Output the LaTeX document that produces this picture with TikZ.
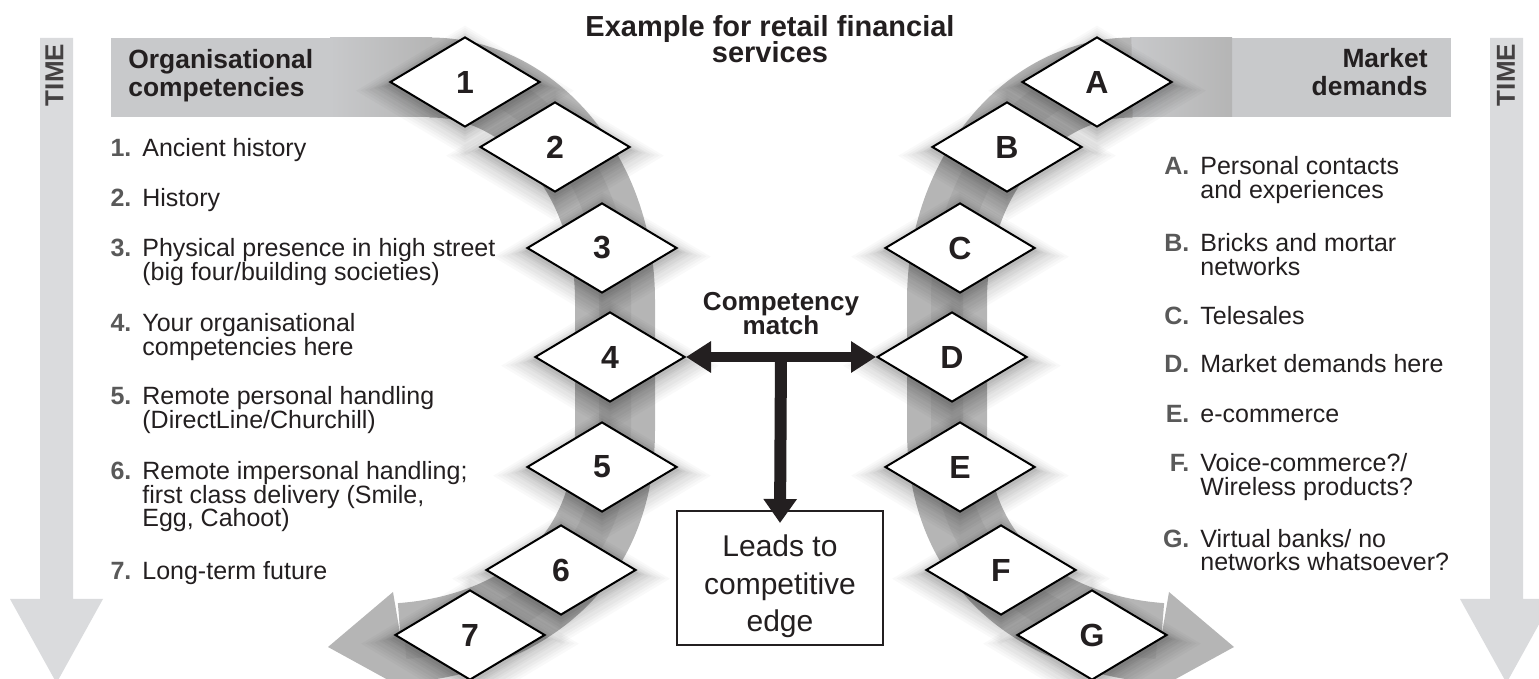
\documentclass[tikz,border=0pt]{standalone}
\usepackage{fontspec}
\setmainfont{Liberation Sans}
\usetikzlibrary{shapes.geometric,arrows.meta,shadows}
\definecolor{txt}{HTML}{231F20}
\definecolor{numc}{HTML}{595959}
\definecolor{hdr}{HTML}{C8C9CB}
\definecolor{bandc}{HTML}{B5B5B5}
\definecolor{timec}{HTML}{DADBDD}
\newcommand\mlL[1]{\vtop{\lineskiplimit=-20pt\lineskip=0pt\halign{##\hfil&##\hfil\cr#1\crcr}}}
\newcommand\mlC[1]{\vtop{\lineskiplimit=-20pt\lineskip=0pt\halign{\hfil##\hfil\cr#1\crcr}}}
\newcommand\mlR[1]{\vtop{\lineskiplimit=-20pt\lineskip=0pt\halign{\hfil##\cr#1\crcr}}}
\newcommand\numlab[1]{\makebox[10.5pt][r]{\bfseries\color{numc}#1}\hspace{5.5pt}}
\newcommand\letlab[1]{\makebox[13.5pt][r]{\bfseries\color{numc}#1}\hspace{5.5pt}}
\newcommand\drawband{%
  \fill[hdr] (111,38) rectangle (331,117);
  \shade[left color=hdr, right color=bandc] (330,38) rectangle (432,117);
  \draw[bandc, line width=40pt] (430,77.5) .. controls (532,77.5) and (615,177) .. (615,300)
     -- (615,430) .. controls (615,580) and (500,636) .. (401,643);
  \draw[bandc!85!black, line width=16pt, opacity=.35] (445,77.5) .. controls (532,77.5) and (615,177) .. (615,300)
     -- (615,430) .. controls (615,580) and (500,636) .. (405,643);
  \fill[bandc] (393,592) -- (328,647) -- (410,692) -- cycle;
}
\tikzset{
  dshadow/.style={
    general shadow={fill=black, opacity=.022, shadow scale=1.46, shadow yshift=-3pt},
    general shadow={fill=black, opacity=.025, shadow scale=1.40, shadow yshift=-3pt},
    general shadow={fill=black, opacity=.028, shadow scale=1.34, shadow yshift=-3pt},
    general shadow={fill=black, opacity=.03, shadow scale=1.28, shadow yshift=-3pt},
    general shadow={fill=black, opacity=.033, shadow scale=1.22, shadow yshift=-2.5pt},
    general shadow={fill=black, opacity=.036, shadow scale=1.17, shadow yshift=-2.5pt},
    general shadow={fill=black, opacity=.04, shadow scale=1.12, shadow yshift=-2pt},
    general shadow={fill=black, opacity=.045, shadow scale=1.08, shadow yshift=-2pt},
    general shadow={fill=black, opacity=.05, shadow scale=1.04, shadow yshift=-1.5pt}},
  dia/.style={diamond, draw=black, fill=white, line width=1pt, minimum width=75pt,
    minimum height=45pt, inner sep=0pt, text=txt,
    font=\fontsize{16pt}{16pt}\selectfont\bfseries, dshadow},
  listtxt/.style={inner sep=0pt, text=txt, font=\fontsize{12.5pt}{11.7pt}\selectfont},
  hdrtxt/.style={inner sep=0pt, text=txt, font=\fontsize{13.2pt}{14pt}\selectfont\bfseries},
  timetxt/.style={inner sep=0pt, rotate=90, text=txt!85, font=\fontsize{13pt}{13pt}\selectfont\bfseries},
  blk/.style={line width=#1, draw=txt},
}
\begin{document}
\begin{tikzpicture}[x=0.5pt,y=-0.5pt]
\useasboundingbox (0,0) rectangle (1539,679);

% TIME arrows
\fill[timec] (40,38) -- (73,38) -- (73,599) -- (103,599) -- (56.5,683) -- (10,599) -- (40,599) -- cycle;
\fill[timec] (1490,38) -- (1523,38) -- (1523,599) -- (1553,599) -- (1506.5,683) -- (1460,599) -- (1490,599) -- cycle;
\node[timetxt] (timeL) at (54.5,75) {TIME};
\node[timetxt] (timeR) at (1506,75) {TIME};

% bands
\drawband
\begin{scope}[shift={(1562,0)}, xscale=-1]
\drawband
\end{scope}

% headers
\node[hdrtxt, anchor=base west] (hL) at (128,69) {\mlL{Organisational\cr competencies}};
\node[hdrtxt, anchor=base east] (hR) at (1428,68) {\mlR{Market\cr demands}};

% title
\node[inner sep=0pt, anchor=base, text=txt, font=\fontsize{14.5pt}{13pt}\selectfont\bfseries]
  (title) at (770,37) {\mlC{Example for retail financial\cr services}};

% diamonds left
\node[dia] (d1) at (465,82) {1};
\node[dia] (d2) at (555,147) {2};
\node[dia] (d3) at (602,248) {3};
\node[dia] (d4) at (610,357) {4};
\node[dia] (d5) at (602,467) {5};
\node[dia] (d6) at (561,570) {6};
\node[dia] (d7) at (470,635) {7};
% diamonds right
\node[dia] (dA) at (1097,82) {A};
\node[dia] (dB) at (1007,147) {B};
\node[dia] (dC) at (960,248) {C};
\node[dia] (dD) at (952,357) {D};
\node[dia] (dE) at (960,467) {E};
\node[dia] (dF) at (1001,570) {F};
\node[dia] (dG) at (1092,635) {G};

% left list
\node[listtxt, anchor=base west] (l1) at (110,157) {\mlL{\numlab{1.}&Ancient history}};
\node[listtxt, anchor=base west] (l2) at (110,207) {\mlL{\numlab{2.}&History}};
\node[listtxt, anchor=base west] (l3) at (110,257) {\mlL{\numlab{3.}&Physical presence in high street\cr &(big four/building societies)}};
\node[listtxt, anchor=base west] (l4) at (110,332) {\mlL{\numlab{4.}&Your organisational\cr &competencies here}};
\node[listtxt, anchor=base west] (l5) at (110,405) {\mlL{\numlab{5.}&Remote personal handling\cr &(DirectLine/Churchill)}};
\node[listtxt, anchor=base west] (l6) at (110,480) {\mlL{\numlab{6.}&Remote impersonal handling;\cr &first class delivery (Smile,\cr &Egg, Cahoot)}};
\node[listtxt, anchor=base west] (l7) at (110,580) {\mlL{\numlab{7.}&Long-term future}};

% right list
\node[listtxt, anchor=base west] (rA) at (1162,175) {\mlL{\letlab{A.}&Personal contacts\cr &and experiences}};
\node[listtxt, anchor=base west] (rB) at (1162,252) {\mlL{\letlab{B.}&Bricks and mortar\cr &networks}};
\node[listtxt, anchor=base west] (rC) at (1162,325) {\mlL{\letlab{C.}&Telesales}};
\node[listtxt, anchor=base west] (rD) at (1162,373) {\mlL{\letlab{D.}&Market demands here}};
\node[listtxt, anchor=base west] (rE) at (1162,423) {\mlL{\letlab{E.}&e-commerce}};
\node[listtxt, anchor=base west] (rF) at (1162,472) {\mlL{\letlab{F.}&Voice-commerce?/\cr &Wireless products?}};
\node[listtxt, anchor=base west] (rG) at (1162,547) {\mlL{\letlab{G.}&Virtual banks/ no\cr &networks whatsoever?}};

% centre
\node[inner sep=0pt, anchor=base, text=txt, font=\fontsize{13pt}{12pt}\selectfont\bfseries]
  (cm) at (781,311) {\mlC{Competency\cr match}};
\node[draw=txt, line width=1pt, fill=white, inner sep=0pt, minimum width=103pt, minimum height=67pt,
  text height=19.7pt, text depth=40.7pt, text=txt, font=\fontsize{15pt}{18.75pt}\selectfont]
  (edge) at (780,578) {\mlC{Leads to\cr competitive\cr edge}};
\coordinate (tee) at (781,355);
\draw[blk=5pt, {Triangle[length=12.5pt,width=15pt]}-{Triangle[length=12.5pt,width=15pt]}] (d4.east) -- (dD.west);
\draw[blk=6pt, -{Triangle[length=12pt,width=16pt]}] (tee) -- ([yshift=-6.5pt]edge.north);
\end{tikzpicture}
\end{document}
